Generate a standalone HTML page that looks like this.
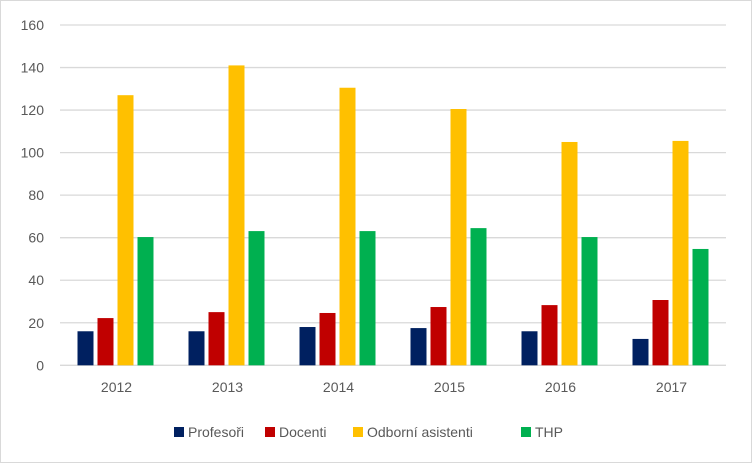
<!DOCTYPE html>
<html><head><meta charset="utf-8"><style>
body{margin:0;background:#fff}
svg{font-family:"Liberation Sans",sans-serif;display:block}
</style></head><body>
<svg width="752" height="463">
<rect x="0.5" y="0.5" width="751" height="462" fill="#fff" stroke="#d9d9d9"/>
<g id="grid"></g><g id="bars"></g><g id="axis"></g><g id="legend"></g>
</svg>
<script>
const categories=["2012","2013","2014","2015","2016","2017"];
const profesori=[16,16,18,17.5,16,12.4];
const docenti=[22.2,25,24.6,27.4,28.3,30.7];
const odborni=[127,141,130.5,120.5,105,105.5];
const thp=[60.3,63.1,63.1,64.5,60.3,54.7];
const yTicks=[0,20,40,60,80,100,120,140,160];
const seriesNames=["Profesoři","Docenti","Odborní asistenti","THP"];
const colors=["#002060","#c00000","#ffc000","#00b050"];
const series=[profesori,docenti,odborni,thp];
const NS="http://www.w3.org/2000/svg";
const L=60,R=726,B=365.3,T=25,ymax=160;
const y=v=>B-(v/ymax)*(B-T);
const step=(R-L)/categories.length;
const cx=i=>L+step*(i+0.5);
function mk(t,a,p){const e=document.createElementNS(NS,t);for(const k in a)e.setAttribute(k,a[k]);p.appendChild(e);return e;}
const g=document.getElementById('grid'),bg=document.getElementById('bars'),ax=document.getElementById('axis'),lg=document.getElementById('legend');
yTicks.forEach(t=>{
 const l=mk('line',{x1:L,x2:R,y1:y(t),y2:y(t),stroke:'#d9d9d9','stroke-width':1.3},g);
 
 
 const tx=mk('text',{x:44,y:y(t)+5,'text-anchor':'end','font-size':14,fill:'#595959'},ax);
 tx.textContent=t;
 
 
});
const bw=16,gap=4;
categories.forEach((c,i)=>{
 const start=cx(i)-(4*bw+3*gap)/2;
 series.forEach((s,j)=>{
  const r=mk('rect',{x:start+j*(bw+gap),y:y(s[i]),width:bw,height:B-y(s[i]),fill:colors[j]},bg);
  
  
 });
 const tx=mk('text',{x:cx(i)+1,y:392,'text-anchor':'middle','font-size':14,fill:'#595959'},ax);
 tx.textContent=c;
 
 
});
const lx=[174,265,353,521];
seriesNames.forEach((n,j)=>{
 const r=mk('rect',{x:lx[j],y:427,width:10,height:10,fill:colors[j]},lg);
 
 
 const tx=mk('text',{x:lx[j]+14,y:437,'font-size':14,fill:'#595959'},lg);
 tx.textContent=n;
 
 
});
</script>
</body></html>
